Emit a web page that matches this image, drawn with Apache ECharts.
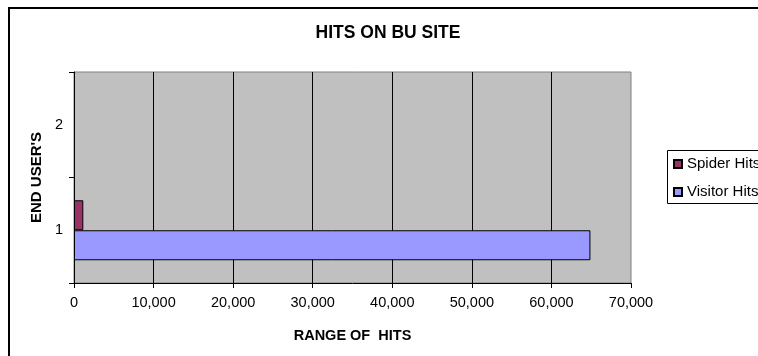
<!DOCTYPE html>
<html>
<head>
<meta charset="utf-8">
<script src="https://cdn.jsdelivr.net/npm/echarts@6/dist/echarts.min.js"></script>
<style>
html,body{margin:0;padding:0;background:#fff;}
#chart{width:758px;height:356px;}
</style>
</head>
<body>
<div id="chart"></div>
<script>
const categories = ['1', '2'];
const spiderHits = [1170, null];
const visitorHits = [64900, null];
const xTicks = { min: 0, max: 70000, interval: 10000 };
const titleText = 'HITS ON BU SITE';
const xAxisTitle = 'RANGE OF  HITS';
const yAxisTitle = "END USER'S";

const FONT = '"Liberation Sans", Arial, sans-serif';
const chart = echarts.init(document.getElementById('chart'), null, { renderer: 'canvas' });

chart.setOption({
  animation: false,
  textStyle: { fontFamily: FONT },
  graphic: [
    { type: 'rect', shape: { x: 9, y: 8, width: 800, height: 400 },
      style: { fill: 'none', stroke: '#000', lineWidth: 2 }, z: 100 },
    { type: 'rect', shape: { x: 667.5, y: 150.5, width: 200, height: 53 },
      style: { fill: '#fff', stroke: '#000', lineWidth: 1 }, z: 1 },
    { type: 'text', x: 388, y: 33,
      style: { text: titleText, fill: '#000', font: 'bold 17.5px ' + FONT,
               textAlign: 'center', textVerticalAlign: 'middle' } }
  ],
  grid: {
    left: 74, right: 127, top: 72, bottom: 73,
    show: true, backgroundColor: '#c0c0c0', borderColor: '#808080', borderWidth: 1
  },
  legend: {
    orient: 'vertical', left: 667, top: 150, z: 10,
    data: ['Spider Hits', 'Visitor Hits'],
    itemWidth: 8, itemHeight: 8, itemGap: 12,
    padding: [6, 0, 4, 6],
    icon: 'rect',
    textStyle: { fontSize: 15, color: '#000', fontFamily: FONT, lineHeight: 16 }
  },
  xAxis: {
    type: 'value', min: xTicks.min, max: xTicks.max, interval: xTicks.interval,
    name: xAxisTitle, nameLocation: 'middle', nameGap: 45,
    nameTextStyle: { fontWeight: 'bold', fontSize: 14.5, color: '#000', fontFamily: FONT },
    axisLine: { show: true, lineStyle: { color: '#000', width: 1 } },
    axisTick: { show: true, length: 5, lineStyle: { color: '#000' } },
    axisLabel: { color: '#000', fontSize: 14.5, margin: 12, fontFamily: FONT,
      formatter: v => v.toLocaleString('en-US') },
    splitLine: { show: true, showMinLine: false, showMaxLine: false, lineStyle: { color: '#000', width: 1 } }
  },
  yAxis: {
    type: 'category', data: categories,
    name: yAxisTitle, nameLocation: 'middle', nameGap: 30, nameRotate: 90,
    nameTextStyle: { fontWeight: 'bold', fontSize: 15, color: '#000', fontFamily: FONT },
    axisLine: { show: true, lineStyle: { color: '#000', width: 1 } },
    axisTick: { show: true, length: 5, alignWithLabel: false, lineStyle: { color: '#000' } },
    axisLabel: { color: '#000', fontSize: 14.5, margin: 11, fontFamily: FONT },
    splitLine: { show: false }
  },
  series: [
    { name: 'Spider Hits', type: 'bar', data: spiderHits, barWidth: 30, barGap: '0%',
      itemStyle: { color: '#993366', borderColor: '#000', borderWidth: 1 } },
    { name: 'Visitor Hits', type: 'bar', data: visitorHits, barWidth: 30, barGap: '0%',
      itemStyle: { color: '#9999ff', borderColor: '#000', borderWidth: 1 } }
  ]
});
</script>
</body>
</html>
